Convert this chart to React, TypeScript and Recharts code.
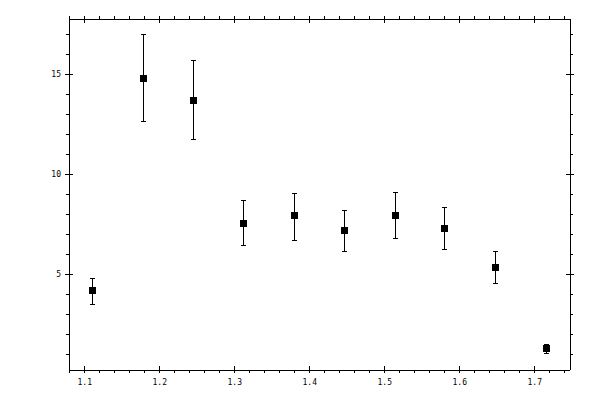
import { ScatterChart, Scatter, XAxis, YAxis, ErrorBar, ReferenceLine } from 'recharts';

// values
const xValues = [1.110, 1.178, 1.245, 1.3115, 1.3795, 1.446, 1.514, 1.580, 1.6475, 1.7155];
const yValues = [4.17, 14.8, 13.7, 7.55, 7.92, 7.17, 7.95, 7.3, 5.35, 1.3];
const yLower = [3.5, 12.65, 11.75, 6.45, 6.7, 6.12, 6.8, 6.25, 4.55, 1.05];
const yUpper = [4.8, 16.97, 15.7, 8.7, 9.05, 8.2, 9.1, 8.35, 6.12, 1.5];

const xMajorTicks = [1.1, 1.2, 1.3, 1.4, 1.5, 1.6, 1.7];
const yMajorTicks = [5, 10, 15];

const X_DOMAIN: [number, number] = [1.079, 1.747];
const Y_DOMAIN: [number, number] = [0.215, 17.77];

const xMinorTicks: number[] = [];
for (let i = 54; i <= 87; i++) xMinorTicks.push(i / 50);
const yMinorTicks: number[] = [];
for (let i = 1; i <= 17; i++) yMinorTicks.push(i);

const data = xValues.map((x, i) => ({
  x,
  y: yValues[i],
  err: [yValues[i] - yLower[i], yUpper[i] - yValues[i]],
}));

const PLOT_H = 351;
const PLOT_W = 501;
const FONT = '"DejaVu Sans Mono", monospace';
const crisp = { stroke: '#000', shapeRendering: 'crispEdges' } as const;

const isMajorX = (v: number) => xMajorTicks.some((t) => Math.abs(t - v) < 1e-6);
const isMajorY = (v: number) => yMajorTicks.some((t) => Math.abs(t - v) < 1e-6);

const XTick = (props: any) => {
  const { x, y, payload } = props;
  const major = isMajorX(payload.value);
  const top = y - PLOT_H;
  return (
    <g>
      {major ? (
        <>
          <line x1={x} x2={x} y1={y - 4} y2={y + 3} {...crisp} />
          <line x1={x} x2={x} y1={top - 3} y2={top + 4} {...crisp} />
          <text x={x} y={y + 15} textAnchor="middle" fontSize={8} fontFamily={FONT} fill="#000">
            {payload.value.toFixed(1)}
          </text>
        </>
      ) : (
        <>
          <line x1={x} x2={x} y1={y} y2={y + 3} {...crisp} />
          <line x1={x} x2={x} y1={top - 3} y2={top} {...crisp} />
        </>
      )}
    </g>
  );
};

const YTick = (props: any) => {
  const { x, y, payload } = props;
  const major = isMajorY(payload.value);
  const right = x + PLOT_W;
  return (
    <g>
      {major ? (
        <>
          <line x1={x - 4} x2={x + 4} y1={y} y2={y} {...crisp} />
          <line x1={right - 4} x2={right + 4} y1={y} y2={y} {...crisp} />
          <text x={x - 8} y={y + 3} textAnchor="end" fontSize={8} fontFamily={FONT} fill="#000">
            {payload.value}
          </text>
        </>
      ) : (
        <>
          <line x1={x - 3} x2={x} y1={y} y2={y} {...crisp} />
          <line x1={right} x2={right + 3} y1={y} y2={y} {...crisp} />
        </>
      )}
    </g>
  );
};

const Square = (props: any) => (
  <rect x={props.cx - 3.5} y={props.cy - 3.5} width={7} height={7} fill="#000" shapeRendering="crispEdges" />
);

const App = () => {
  return (
    <ScatterChart width={584} height={384} margin={{ top: 11, right: 22, bottom: 0, left: 0 }}>
      <XAxis
        type="number"
        dataKey="x"
        domain={X_DOMAIN}
        ticks={xMinorTicks}
        interval={0}
        tickSize={0}
        tickMargin={0}
        tick={<XTick />}
        height={22}
        axisLine={crisp}
        allowDataOverflow
      />
      <YAxis
        type="number"
        dataKey="y"
        domain={Y_DOMAIN}
        ticks={yMinorTicks}
        interval={0}
        tickSize={0}
        tickMargin={0}
        tick={<YTick />}
        width={61}
        axisLine={crisp}
        allowDataOverflow
      />
      <ReferenceLine y={Y_DOMAIN[1]} {...crisp} />
      <ReferenceLine x={X_DOMAIN[1]} {...crisp} />
      <Scatter data={data} fill="#000" shape={<Square />} isAnimationActive={false}>
        <ErrorBar dataKey="err" direction="y" width={2.5} stroke="#000" strokeWidth={1} shapeRendering="crispEdges" />
      </Scatter>
    </ScatterChart>
  );
};

export default App;
